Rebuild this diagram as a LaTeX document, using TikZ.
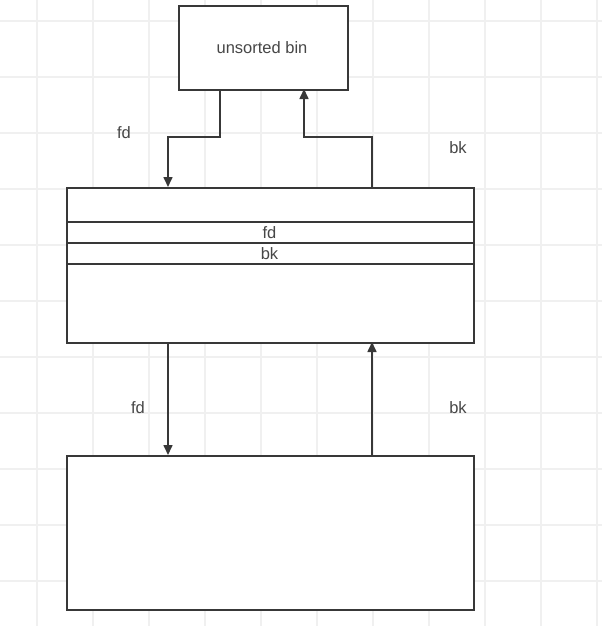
\documentclass[tikz,border=0pt]{standalone}
\usepackage{fontspec}
\setmainfont{Liberation Sans}
\usetikzlibrary{arrows.meta}
\begin{document}
\begin{tikzpicture}[x=1pt,y=-1pt,
  box/.style={draw=black!78,line width=1.6pt,fill=white,inner sep=0pt,anchor=north west},
  conn/.style={draw=black!78,line width=1.6pt,-{Triangle[length=10pt,width=9pt]}},
  lbl/.style={font=\fontsize{16.5}{19}\selectfont,text=black!72},
  gridline/.style={draw=black!6,line width=1.2pt}]
\useasboundingbox (0,0) rectangle (602,626);
\fill[white] (0,0) rectangle (602,626);
\foreach \gx in {37,93,149,205,261,317,373,429,485,541,597}
  \draw[gridline] (\gx,0) -- (\gx,626);
\foreach \gy in {21,77,133,189,245,301,357,413,469,525,581}
  \draw[gridline] (0,\gy) -- (602,\gy);
% boxes
\node[box,minimum width=169pt,minimum height=84pt] (bin) at (178,5) {};
\node[lbl] (bintext) at (262,48) {unsorted bin};
\node[box,minimum width=407pt,minimum height=155pt] (mid) at (66,187) {};
\draw[draw=black!78,line width=1.6pt] (66,222) -- (473,222) (66,243) -- (473,243) (66,264) -- (473,264);
\node[lbl] (midfd) at (269.5,233) {fd};
\node[lbl] (midbk) at (269.5,254) {bk};
\node[box,minimum width=407pt,minimum height=154pt] (bot) at (66,455) {};
% connectors
\coordinate (a1) at (220,89);
\coordinate (a2) at (168,187);
\draw[conn] (a1) -- (220,137) -- (168,137) -- (a2);
\coordinate (b1) at (372,187);
\coordinate (b2) at (304,89);
\draw[conn] (b1) -- (372,137) -- (304,137) -- (b2);
\coordinate (c1) at (168,342);
\coordinate (c2) at (168,455);
\draw[conn] (c1) -- (c2);
\coordinate (d1) at (372,455);
\coordinate (d2) at (372,342);
\draw[conn] (d1) -- (d2);
% labels
\node[lbl] (l1) at (124,133) {fd};
\node[lbl] (l2) at (458,148) {bk};
\node[lbl] (l3) at (138,408) {fd};
\node[lbl] (l4) at (458,408) {bk};
\end{tikzpicture}
\end{document}
